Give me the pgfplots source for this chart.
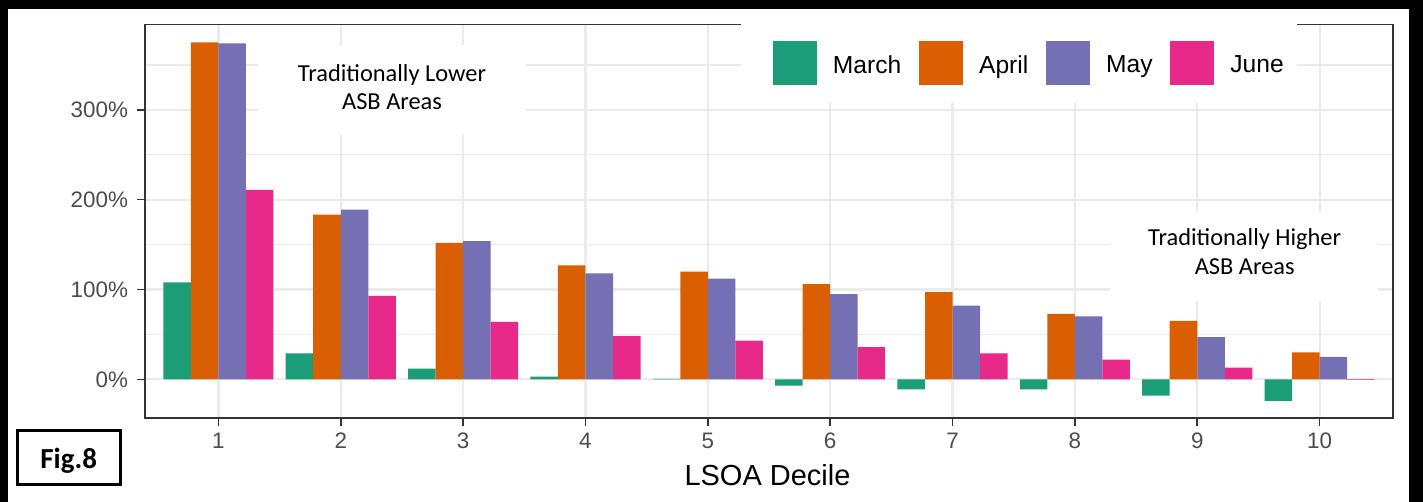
\documentclass[border=0pt]{standalone}
\usepackage{fontspec}
\setmainfont{Liberation Sans}
\newfontfamily\carlito{Carlito}
\usepackage{pgfplots}
\pgfplotsset{compat=1.18}
\definecolor{cMar}{HTML}{1B9E77}
\definecolor{cApr}{HTML}{D95F02}
\definecolor{cMay}{HTML}{7570B3}
\definecolor{cJun}{HTML}{E7298A}
\definecolor{gridc}{HTML}{EBEBEB}
\definecolor{g20}{HTML}{333333}
\definecolor{g30}{HTML}{4D4D4D}
\pgfplotstableread{
x March April May June
1 108 375 374 211
2 29 183.5 189 93
3 12 152 154 64
4 3 127 118 48
5 0.5 120 112 43
6 -7 106 95 36
7 -11 97 82 29
8 -11 73 70 22
9 -18 65 47 13
10 -24 30 25 -0.5
}\datatable
\begin{document}
\begin{tikzpicture}
\begin{scope}[x=0.5pt,y=-0.5pt]
\useasboundingbox (0,0) rectangle (1423,502);
\fill[white] (0,0) rectangle (1423,502);
\end{scope}
\begin{axis}[
  at={(72.5pt,-209pt)}, anchor=south west,
  scale only axis, width=624pt, height=196.75pt,
  xmin=0.4, xmax=10.6, ymin=-43, ymax=395,
  clip=false,
  xtick={1,2,3,4,5,6,7,8,9,10},
  ytick={0,100,200,300},
  minor ytick={50,150,250,350},
  yticklabel={\pgfmathprintnumber{\tick}\%},
  xmajorgrids, ymajorgrids, yminorgrids,
  major grid style={color=gridc, line width=1.1pt},
  minor grid style={color=gridc, line width=0.6pt},
  axis line style={g20, line width=0.6pt},
  tick style={g20, line width=0.8pt},
  major tick length=4pt, minor tick length=0pt,
  tick align=outside, tick pos=left,
  ticklabel style={font=\fontsize{11.2}{13}\selectfont, text=g30},
  yticklabel style={xshift=-1pt},
  /pgf/number format/assume math mode=true,
  bar width=0.225,
  legend columns=4,
  legend style={at={(0.5026,0.9017)}, anchor=west, draw=none, fill=none,
    inner sep=0pt, font=\fontsize{12.3}{14}\selectfont,
    nodes={inner sep=0pt},
    /tikz/every odd column/.append style={column sep=8.15pt},
    /tikz/every even column/.append style={column sep=8.75pt}},
  legend image code/.code={\fill[#1] (0pt,-9.6pt) rectangle (22pt,12.4pt);},
]
\fill[white] (axis cs:5.270,399.9) rectangle (axis cs:9.813,307.6);
\fill[white] (axis cs:1.324,371.9) rectangle (axis cs:3.514,271.8);
\fill[white] (axis cs:8.285,186.1) rectangle (axis cs:10.475,87.2);
\addplot[ybar, fill=cMar, draw=none, bar shift=-0.3375] table[x=x,y=March] {\datatable};
\addplot[ybar, fill=cApr, draw=none, bar shift=-0.1125] table[x=x,y=April] {\datatable};
\addplot[ybar, fill=cMay, draw=none, bar shift=0.1125] table[x=x,y=May] {\datatable};
\addplot[ybar, fill=cJun, draw=none, bar shift=0.3375] table[x=x,y=June] {\datatable};
\legend{March,April,May,June}
\node[anchor=base, font=\carlito\fontsize{12.2}{14}\selectfont] at (axis cs:2.419,332.1) {Traditionally Lower};
\node[anchor=base, font=\carlito\fontsize{12.2}{14}\selectfont] at (axis cs:2.419,300.3) {ASB Areas};
\node[anchor=base, font=\carlito\fontsize{12.2}{14}\selectfont] at (axis cs:9.388,149.4) {Traditionally Higher};
\node[anchor=base, font=\carlito\fontsize{12.2}{14}\selectfont] at (axis cs:9.388,116.8) {ASB Areas};
\end{axis}
\begin{scope}[x=0.5pt,y=-0.5pt]
\fill[black] (0,0) rectangle (8,502);
\fill[black] (0,0) rectangle (1423,9);
\fill[black] (1409,0) rectangle (1423,502);
\draw[line width=1.35pt] (17.35,430.65) rectangle (120.35,484.65);
\node[anchor=base, font=\carlito\bfseries\fontsize{14.5}{16}\selectfont] at (68.7,468) {Fig.8};
\node[anchor=base, font=\fontsize{14.5}{16}\selectfont] at (767.5,485) {LSOA Decile};
\end{scope}
\end{tikzpicture}
\end{document}
